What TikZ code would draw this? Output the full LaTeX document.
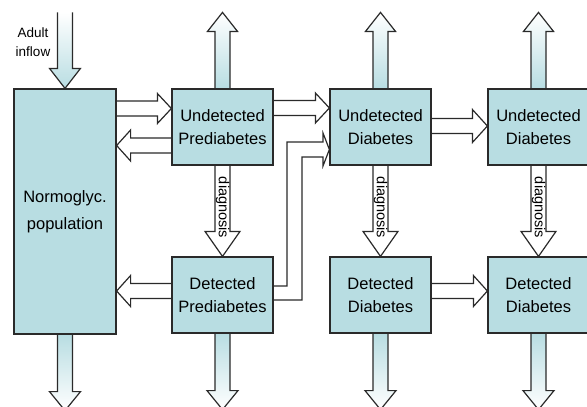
\documentclass[tikz,border=0pt]{standalone}
\usepackage{fontspec}
\setmainfont{Liberation Sans}
\usetikzlibrary{calc,backgrounds}

\definecolor{boxteal}{HTML}{B8DDE2}
\definecolor{edge}{HTML}{2A2A2A}

% vertical block arrow: [style]{tail}{tip}{head length}{head half width}
\newcommand{\vblock}[5][]{%
  \draw[#1] let \p1=(#2), \p2=(#3), \n1={sign(\y2-\y1)*#4} in
    (\x1-7.5pt,\y1) -- (\x1-7.5pt,\y2-\n1) -- (\x1-#5pt,\y2-\n1) -- (\x1,\y2)
    -- (\x1+#5pt,\y2-\n1) -- (\x1+7.5pt,\y2-\n1) -- (\x1+7.5pt,\y1);}
% horizontal block arrow
\newcommand{\hblock}[5][]{%
  \draw[#1] let \p1=(#2), \p2=(#3), \n1={sign(\x2-\x1)*#4} in
    (\x1,\y1+7.5pt) -- (\x2-\n1,\y1+7.5pt) -- (\x2-\n1,\y1+#5pt) -- (\x2,\y1)
    -- (\x2-\n1,\y1-#5pt) -- (\x2-\n1,\y1-7.5pt) -- (\x1,\y1-7.5pt);}

\tikzset{
  stock/.style={draw=edge, fill=boxteal, line width=1.2pt, align=center, inner sep=0pt,
    minimum width=101pt, minimum height=76pt, font=\fontsize{16.5}{23}\selectfont},
  flow/.style={draw=edge, line width=1.2pt, fill=white},
  upflow/.style={flow, top color=white, bottom color=boxteal},
  downflow/.style={flow, top color=boxteal, bottom color=white},
  diagtext/.style={rotate=-90, inner sep=0pt, font=\fontsize{14.5}{16}\selectfont},
}

\begin{document}
\begin{tikzpicture}[x=1pt, y=-1pt]
  \useasboundingbox (0,0) rectangle (587,407);

  \node[stock, minimum width=102pt, minimum height=245pt, font=\fontsize{16.5}{27}\selectfont] (normo) at (65,211.5) {Normoglyc.\\population};
  \node[stock] (undpre) at (222.5,127) {Undetected\\Prediabetes};
  \node[stock] (detpre) at (222.5,295) {Detected\\Prediabetes};
  \node[stock] (undia) at (380.5,127) {Undetected\\Diabetes};
  \node[stock] (detdia) at (380.5,295) {Detected\\Diabetes};
  \node[stock] (undiab) at (538.5,127) {Undetected\\Diabetes};
  \node[stock] (detdiab) at (538.5,295) {Detected\\Diabetes};

  \node[align=center, inner sep=0pt, font=\fontsize{13.5}{19}\selectfont] (inflow) at (33,42) {Adult\\inflow};

  \node[diagtext] (diag1) at ($(undpre.south)+(0,42)$) {diagnosis};
  \node[diagtext] (diag2) at ($(undia.south)+(0,42)$) {diagnosis};
  \node[diagtext] (diag3) at ($(undiab.south)+(0,42)$) {diagnosis};

  \begin{scope}[on background layer]
    \vblock[upflow]{$(normo.north)+(0,-76)$}{normo.north}{20}{15.5}
    \vblock[downflow]{normo.south}{$(normo.south)+(0,76)$}{19}{15.5}
    \foreach \b in {undpre, undia, undiab}
      \vblock[upflow]{\b.north}{$(\b.north)+(0,-76)$}{19}{15};
    \foreach \b in {detpre, detdia, detdiab}
      \vblock[downflow]{\b.south}{$(\b.south)+(0,76)$}{19}{15.5};
    \vblock[flow]{undpre.south}{detpre.north}{25}{17.5}
    \vblock[flow]{undia.south}{detdia.north}{25}{17.5}
    \vblock[flow]{undiab.south}{detdiab.north}{25}{17.5}

    \hblock[flow]{normo.east |- 0,108.5}{undpre.west |- 0,108.5}{14}{15}
    \hblock[flow]{undpre.west |- 0,145.5}{normo.east |- 0,145.5}{14}{15.5}
    \hblock[flow]{detpre.west |- 0,291}{normo.east |- 0,291}{14}{15.5}
    \hblock[flow]{undpre.east |- 0,108}{undia.west |- 0,108}{14}{15}
    \hblock[flow]{undia.east |- 0,126}{undiab.west |- 0,126}{15}{16.5}
    \hblock[flow]{detdia.east |- 0,291}{detdiab.west |- 0,291}{14}{15.5}

    \draw[flow] (detpre.east |- 0,286) -| (287,142) -- (323,142) -- (323,133)
      -- (undia.west |- 0,149.5) -- (323,166) -- (323,157) -- (302,157) |- (detpre.east |- 0,300);
  \end{scope}
\end{tikzpicture}
\end{document}
